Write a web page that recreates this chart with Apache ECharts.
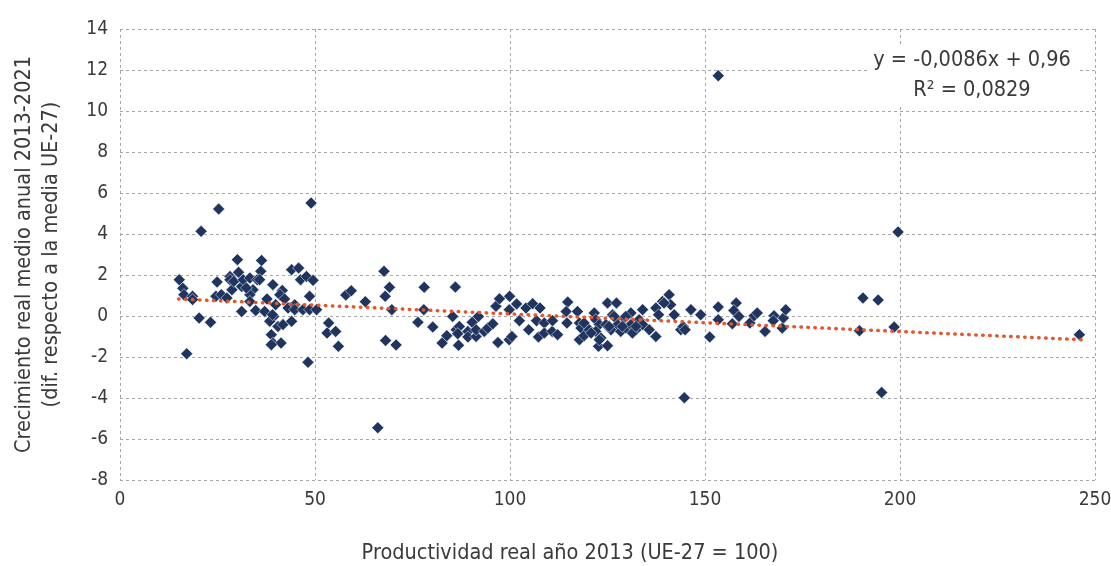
<!DOCTYPE html>
<html>
<head>
<meta charset="utf-8">
<script src="https://cdn.jsdelivr.net/npm/echarts@6/dist/echarts.min.js"></script>
<style>html,body{margin:0;padding:0;background:#fff}#c{width:1111px;height:566px}</style>
</head>
<body>
<div id="c"></div>
<script>
// Productivity 2013 (EU-27 = 100)
const prodX = [15.2,16.1,16.4,18.6,18.6,20.3,23.2,17.1,20.8,25.3,24.9,24.6,26.0,27.4,28.2,28.2,28.7,29.2,30.1,30.4,
31.2,31.6,33.3,34.1,33.3,35.2,36.3,36.1,39.2,37.7,41.6,41.0,42.2,31.2,34.8,37.1,39.9,39.4,38.4,39.1,
40.5,41.8,44.0,38.8,39.2,41.3,38.8,44.0,45.8,46.3,47.8,49.5,48.6,43.1,44.8,44.8,46.9,48.6,50.4,48.2,
49.0,53.5,53.1,55.3,56.0,57.9,59.3,62.9,67.7,69.1,68.0,69.7,68.1,70.8,66.1,78.0,77.9,76.4,80.2,82.6,
83.8,86.0,85.3,86.2,87.0,86.6,86.8,89.2,89.2,90.3,91.3,91.9,91.3,93.4,94.3,95.6,96.4,97.3,96.9,99.9,
99.8,101.7,102.4,99.8,100.5,104.1,104.8,105.8,107.7,106.8,108.8,107.3,108.8,110.8,112.2,110.9,114.8,114.4,114.6,117.3,
117.8,118.2,117.8,119.0,120.3,121.6,122.0,122.9,122.0,123.3,122.7,125.0,125.0,127.3,126.3,124.6,125.9,127.6,128.4,129.3,
129.7,131.0,131.0,132.3,131.4,133.1,134.0,134.0,135.7,137.4,137.4,138.1,139.1,140.8,141.2,142.1,143.8,144.4,146.4,119.0,
120.8,122.9,126.7,125.4,128.8,129.7,132.3,139.5,148.9,151.2,153.4,153.4,157.0,158.0,157.4,158.7,161.5,162.6,163.4,165.4,
167.7,167.5,169.8,170.1,170.7,189.6,190.5,194.4,198.5,195.3,199.5,246.0,153.4,144.7,144.9,35.8,32.4,33.3];
// Real average annual growth 2013-2021 (difference vs EU-27 mean)
const growthY = [1.77,1.35,1.04,0.96,0.80,-0.10,-0.31,-1.84,4.13,5.22,1.66,0.96,1.04,0.88,1.93,1.77,1.28,1.69,2.75,2.13,
1.44,1.77,1.85,1.28,1.04,1.77,2.71,2.18,1.53,0.83,1.25,1.04,0.83,0.22,0.27,0.22,0.55,-0.02,-0.26,0.06,
-0.51,-0.42,-0.26,-0.91,-1.32,-1.32,-1.40,2.26,2.34,1.77,1.93,1.74,0.96,0.39,0.55,0.31,0.31,0.31,0.31,-2.26,
5.51,-0.34,-0.83,-0.75,-1.48,1.02,1.23,0.70,2.18,1.40,0.96,0.31,-1.19,-1.41,-5.45,1.40,0.31,-0.31,-0.54,-1.32,
-0.96,1.41,-0.02,-0.67,-0.51,-0.86,-1.43,-0.75,-1.02,-0.31,-1.00,-0.02,-0.67,-0.75,-0.59,-0.38,0.47,0.84,-1.29,0.96,
0.31,0.59,-0.23,-1.16,-1.00,0.39,-0.67,0.60,0.39,-0.23,-0.34,-1.02,-0.83,-0.75,-0.91,-0.23,0.68,0.22,-0.34,0.22,
-0.34,-0.59,-1.16,-0.96,-0.67,0.15,-0.18,-0.42,-0.75,-1.07,-1.48,-1.45,0.63,0.63,0.06,-0.42,-0.67,-0.42,-0.75,-0.10,
-0.59,0.15,-0.42,-0.67,-0.83,-0.18,0.31,-0.42,-0.67,-1.00,0.39,0.06,0.71,1.04,0.55,0.06,-0.67,-0.51,0.31,-0.34,
-0.83,-1.16,-0.02,-0.51,-0.51,-0.02,-0.51,0.63,0.06,-1.02,0.44,-0.18,-0.38,0.63,0.27,-0.02,-0.34,0.01,0.15,-0.75,
0.01,-0.23,-0.59,-0.10,0.31,-0.72,0.88,0.78,-0.54,-3.73,4.10,-0.91,11.72,-3.99,-0.67,1.77,1.37,0.71];
// Linear trend endpoints (y = -0,0086x + 0,96)
const trendX = [15, 247];
const trendY = [0.83, -1.16];
const xTicks = [0, 250, 50];   // min, max, interval
const yTicks = [-8, 14, 2];
const eqLines = ['y = -0,0086x + 0,96', 'R² = 0,0829'];
const xTitle = 'Productividad real año 2013 (UE-27 = 100)';
const yTitle = 'Crecimiento real medio anual 2013-2021\n(dif. respecto a la media UE-27)';

const FONT = '"DejaVu Sans Condensed", "Open Sans", sans-serif';
const chart = echarts.init(document.getElementById('c'), null, {renderer: 'canvas'});
const pts = prodX.map((x, i) => [x, growthY[i]]);
const trend = trendX.map((x, i) => [x, trendY[i]]);
chart.setOption({
  animation: false,
  grid: {left: 120, right: 16, top: 29, bottom: 86, containLabel: false, outerBoundsMode: 'none'},
  xAxis: {
    type: 'value', min: xTicks[0], max: xTicks[1], interval: xTicks[2],
    axisLine: {show: false}, axisTick: {show: false},
    axisLabel: {color: '#3a3a3a', fontSize: 19, fontFamily: FONT, margin: 11},
    splitLine: {show: true, lineStyle: {color: '#a6a6a6', type: [3, 3], width: 1}}
  },
  yAxis: {
    type: 'value', min: yTicks[0], max: yTicks[1], interval: yTicks[2],
    axisLine: {show: false}, axisTick: {show: false},
    axisLabel: {color: '#3a3a3a', fontSize: 19, fontFamily: FONT, margin: 12},
    splitLine: {show: true, lineStyle: {color: '#a6a6a6', type: [3, 3], width: 1}},
    name: yTitle, nameLocation: 'middle', nameRotate: 90, nameGap: 55,
    nameTextStyle: {color: '#3a3a3a', fontSize: 21.5, fontFamily: FONT, lineHeight: 27}
  },
  series: [
    {
      type: 'scatter', data: pts, symbol: 'diamond', symbolSize: 12,
      itemStyle: {color: '#1f3560', opacity: 1, borderColor: '#ffffff', borderWidth: 0.5}, z: 2
    },
    {
      type: 'line', data: trend, symbol: 'none', z: 3,
      lineStyle: {color: '#e2572b', width: 3.5, type: [0.5, 6.5], cap: 'round'}
    }
  ],
  graphic: [
    {type: 'text', x: 570, y: 553, z: 10,
     style: {text: xTitle, fill: '#3a3a3a', font: '21.5px ' + FONT, align: 'center', verticalAlign: 'middle'}},
    {type: 'text', x: 972, y: 75, z: 10,
     style: {text: eqLines.join('\n'), fill: '#3a3a3a', font: '21.5px ' + FONT, align: 'center',
             verticalAlign: 'middle', lineHeight: 30, backgroundColor: '#fff', padding: [0, 6]}}
  ]
});
</script>
</body>
</html>
